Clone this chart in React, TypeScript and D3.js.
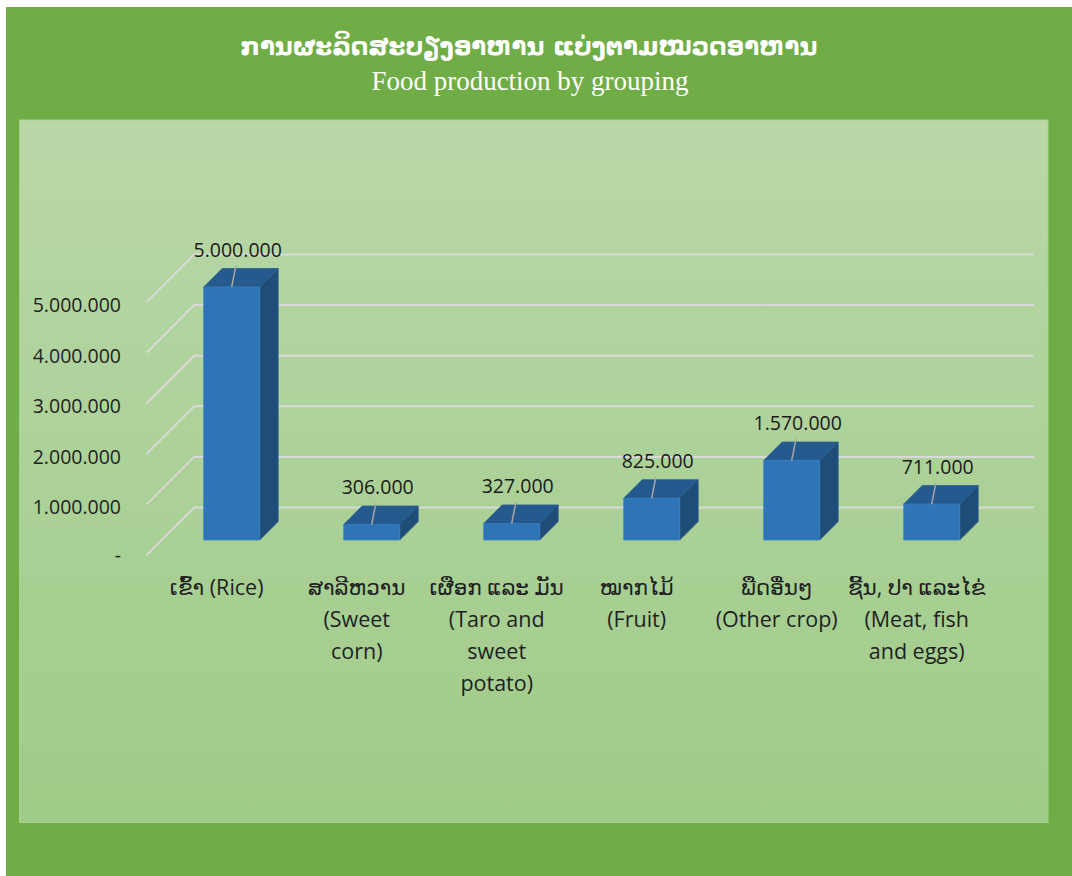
import React from "react";
import * as d3 from "d3";

const titleLao = "ການຜະລິດສະບຽງອາຫານ ແບ່ງຕາມໝວດອາຫານ";
const titleEn = "Food production by grouping";

const categories = ["rice", "corn", "taro", "fruit", "other", "meat"];
const categoryLines: string[][] = [
  ["ເຂົ້າ (Rice)"],
  ["ສາລີຫວານ", "(Sweet", "corn)"],
  ["ເຜືອກ ແລະ ມັນ", "(Taro and", "sweet", "potato)"],
  ["ໝາກໄມ້", "(Fruit)"],
  ["ພືດອື່ນໆ", "(Other crop)"],
  ["ຊີ້ນ, ປາ ແລະໄຂ່", "(Meat, fish", "and eggs)"],
];
const values = [5000000, 306000, 327000, 825000, 1570000, 711000];
const yTicks = [0, 1000000, 2000000, 3000000, 4000000, 5000000];

const W = 1072;
const H = 876;

const locale = d3.formatLocale({ decimal: ",", thousands: ".", grouping: [3], currency: ["", ""] });
const fmt = locale.format(",d");

export default function App() {
  // 3D projection parameters
  const x0 = 146.7;
  const x1 = 986.7;
  const D = 47.5; // depth of floor
  const zF = 15; // bar front depth
  const zB = 33.5; // bar back depth

  const x = d3.scaleBand<string>().domain(categories).range([x0, x1]).paddingInner(0.6).paddingOuter(0.3);
  const y = d3.scaleLinear().domain([0, 5000000]).range([555, 302]);
  const P = (px: number, v: number, z: number): [number, number] => [px + z, y(v) - z];
  const pts = (arr: [number, number][]) => arr.map((p) => p.join(",")).join(" ");

  const sans = "'Open Sans', 'DejaVu Sans', sans-serif";

  return (
    <svg width={W} height={H} style={{ position: "absolute", left: 0, top: 0 }}>
      <defs>
        <linearGradient id="panel" x1="0" y1="0" x2="0" y2="1">
          <stop offset="0" stopColor="#b9d8a8" />
          <stop offset="1" stopColor="#9fcb88" />
        </linearGradient>
      </defs>
      <rect x={6} y={7} width={W - 6} height={H - 7} fill="#70ad47" />
      <rect x={19.5} y={120} width={1028.5} height={702.5} fill="url(#panel)" stroke="#a9d18e" strokeWidth={1} />

      <text x={529} y={55} textAnchor="middle" fill="#ffffff" fontWeight="bold" fontSize={24.5}
        style={{ fontFamily: "'DejaVu Sans', serif" }}>{titleLao}</text>
      <text x={530} y={90} textAnchor="middle" fill="#ffffff" fontSize={27}
        style={{ fontFamily: "'Liberation Serif', 'Times New Roman', serif" }}>{titleEn}</text>

      {/* gridlines: side diagonal + back wall */}
      {yTicks.map((t) => {
        const a = P(x0, t, 0);
        const b = P(x0, t, D);
        const c = P(x1, t, D);
        return (
          <g key={"g" + t}>
            <polyline points={pts([a, b, c])} fill="none" stroke="#d9d9d9" strokeWidth={2} />
          </g>
        );
      })}

      {/* y axis labels */}
      {yTicks.map((t) => (
        <text key={"yl" + t} x={121} y={y(t) + (t === 0 ? 7 : 10)} textAnchor="end" fontSize={19.5} fill="#1f1f1f"
          style={{ fontFamily: sans }}>{t === 0 ? "-" : fmt(t)}</text>
      ))}

      {/* bars */}
      {categories.map((c, i) => {
        const v = values[i];
        const l = x(c)!;
        const r = l + x.bandwidth();
        const front = pts([P(l, 0, zF), P(r, 0, zF), P(r, v, zF), P(l, v, zF)]);
        const top = pts([P(l, v, zF), P(r, v, zF), P(r, v, zB), P(l, v, zB)]);
        const side = pts([P(r, 0, zF), P(r, 0, zB), P(r, v, zB), P(r, v, zF)]);
        const fc = P((l + r) / 2, v, zF);
        const backTop = P((l + r) / 2, v, zB)[1];
        const lx = fc[0] + 6;
        const ly = backTop - 19;
        return (
          <g key={c}>
            <polygon points={side} fill="#1f4d78" stroke="#2a5d8f" strokeWidth={0.8} />
            <polygon points={top} fill="#255a8e" stroke="#2a5d8f" strokeWidth={0.8} />
            <polygon points={front} fill="#2e74b7" stroke="#3a7fc0" strokeWidth={0.8} />
            <line x1={fc[0]} y1={fc[1]} x2={fc[0] + (lx - fc[0]) * 0.7} y2={backTop - 3}
              stroke="#a6a6a6" strokeWidth={1.5} />
            <text x={lx} y={ly + 7} textAnchor="middle" fontSize={19.5} fill="#1a1a1a"
              style={{ fontFamily: sans }}>{fmt(v)}</text>
          </g>
        );
      })}

      {/* category labels */}
      {categories.map((c, i) => {
        const cx = x(c)! + x.bandwidth() / 2;
        return (
          <text key={"cl" + c} textAnchor="middle" fontSize={21.5} fill="#1f1f1f" style={{ fontFamily: sans }}>
            {categoryLines[i].map((line, j) => (
              <tspan key={j} x={cx} y={595 + j * 32}>{line}</tspan>
            ))}
          </text>
        );
      })}
    </svg>
  );
}
